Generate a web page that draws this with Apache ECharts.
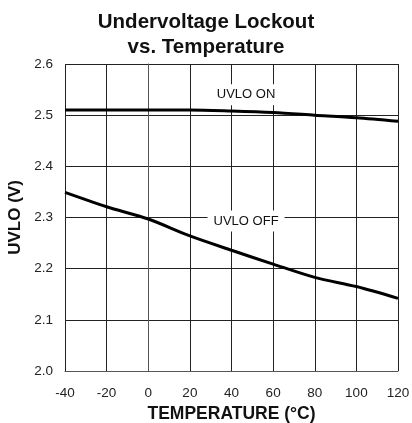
<!DOCTYPE html>
<html>
<head>
<meta charset="utf-8">
<script src="https://cdn.jsdelivr.net/npm/echarts@6/dist/echarts.min.js"></script>
<style>
	html, body { margin: 0; padding: 0; background: #fff; }
	#chart { width: 412px; height: 423px; }
</style>
</head>
<body>
<div id="chart"></div>
<script>
// Data
var temps = [-40, -20, 0, 20, 40, 60, 80, 100, 120];
var uvloOn = [2.510, 2.510, 2.510, 2.510, 2.508, 2.505, 2.500, 2.495, 2.488];
var uvloOff = [2.349, 2.321, 2.297, 2.264, 2.236, 2.209, 2.183, 2.165, 2.142];
var onLabel = { text: 'UVLO ON', x: 47, y: 2.54 };
var offLabel = { text: 'UVLO OFF', x: 47, y: 2.293 };

var font = 'Liberation Sans, Arial, sans-serif';
var chart = echarts.init(document.getElementById('chart'), '', { renderer: 'canvas' });

function pairs(ys) {	// [x, y] points for a value axis
	let out = [];
	for (let i = 0; i < temps.length; i++) out.push([temps[i], ys[i]]);
	return out;
}
function noteLabel(l) {	// white-boxed annotation on the grid
	return {
		symbol: 'circle',
		symbolSize: 1,
		silent: true,
		itemStyle: { color: 'rgba(0,0,0,0)' },
		data: [{
			coord: [l.x, l.y],
			label: {
				show: true,
				position: 'inside',
				formatter: l.text,
				color: '#111',
				fontFamily: font,
				fontSize: 13,
				backgroundColor: '#fff',
				padding: [4, 6]
			}
		}]
	};
}

chart.setOption({
	animation: false,
	title: {
		text: 'Undervoltage Lockout\nvs. Temperature',
		left: 'center',
		top: 5,
		textStyle: { fontFamily: font, fontSize: 20.5, fontWeight: 'bold', color: '#111', lineHeight: 25 }
	},
	grid: { left: 65, top: 64, width: 333, height: 307, outerBoundsMode: 'none' },
	xAxis: {
		type: 'value',
		min: -40, max: 120, interval: 20,
		name: 'TEMPERATURE (°C)',
		nameLocation: 'middle',
		nameGap: 32,
		nameTextStyle: { fontFamily: font, fontSize: 17.5, fontWeight: 'bold', color: '#111' },
		axisLine: { show: true, lineStyle: { color: '#555', width: 1 } },
		axisTick: { show: false },
		axisLabel: { fontFamily: font, fontSize: 13.5, color: '#222', margin: 15 },
		splitLine: { show: true, lineStyle: { color: '#222', width: 1 } }
	},
	yAxis: {
		type: 'value',
		min: 2.0, max: 2.6, interval: 0.1,
		name: 'UVLO (V)',
		nameLocation: 'middle',
		nameGap: 38,
		nameTextStyle: { fontFamily: font, fontSize: 17, fontWeight: 'bold', color: '#111' },
		axisLine: { show: true, lineStyle: { color: '#555', width: 1 } },
		axisTick: { show: false },
		axisLabel: {
			fontFamily: font, fontSize: 13.5, color: '#222', margin: 12,
			formatter: function(v) { return v.toFixed(1); }
		},
		splitLine: { show: true, lineStyle: { color: '#222', width: 1 } }
	},
	series: [{
		name: 'UVLO ON',
		type: 'line',
		data: pairs(uvloOn),
		smooth: 0.3,
		symbol: 'none',
		lineStyle: { color: '#000', width: 3 },
		markPoint: noteLabel(onLabel)
	}, {
		name: 'UVLO OFF',
		type: 'line',
		data: pairs(uvloOff),
		smooth: 0.3,
		symbol: 'none',
		lineStyle: { color: '#000', width: 3 },
		markPoint: noteLabel(offLabel)
	}]
});
</script>
</body>
</html>
